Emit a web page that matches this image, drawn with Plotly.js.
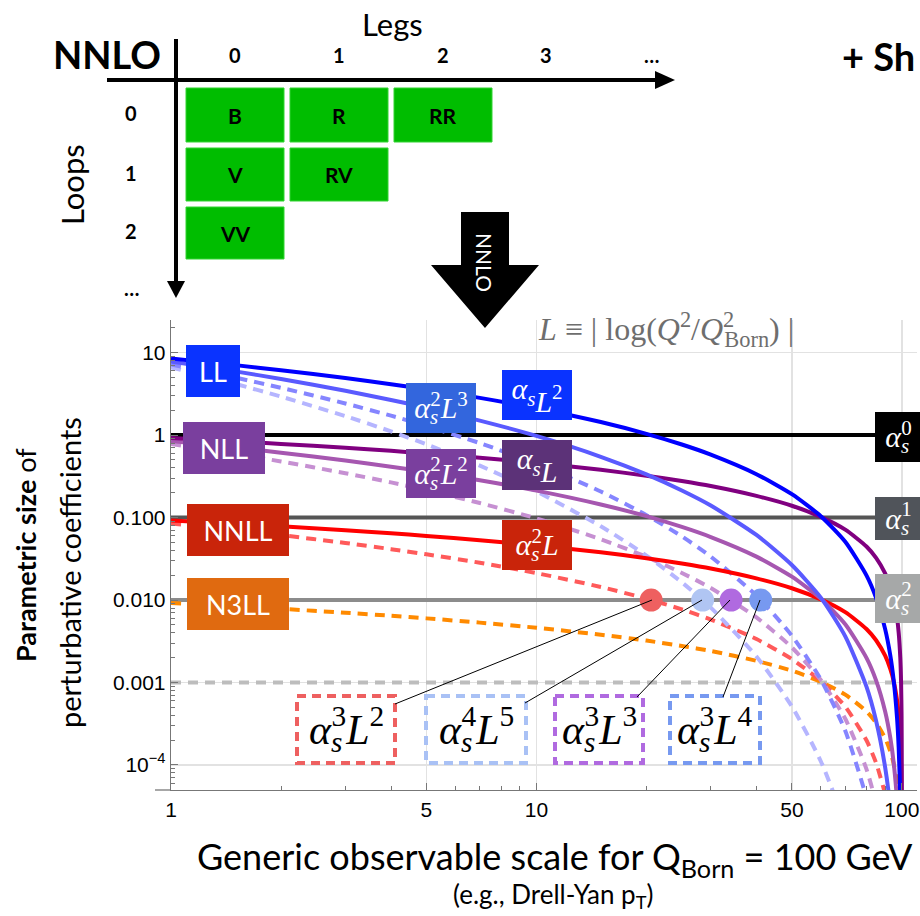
<!DOCTYPE html>
<html><head><meta charset="utf-8">
<script src="https://cdn.plot.ly/plotly-3.0.1.min.js"></script>
<style>html,body{margin:0;padding:0;background:#fff}#chart{width:920px;height:916px}</style>
</head><body><div id="chart"></div>
<script>
// ---------------- data ----------------
const scaleX = [1, 1.5, 2, 3, 4, 5, 7, 10, 15, 20, 25, 30, 40, 50, 60, 70, 80, 85, 90, 93, 95, 97, 98, 99, 99.5, 99.8, 99.95, 99.99];
// LL family
const asL2  = [8.48, 7.06, 6.12, 4.92, 4.14, 3.59, 2.83, 2.12, 1.44, 1.036, 0.769, 0.580, 0.336, 0.192, 0.104, 0.0509, 0.0199, 0.0106, 0.00444, 0.00211, 0.00105, 0.000371, 0.000163, 4.0e-5, 1.0e-5, 1.6e-6, 1.0e-7, 4e-9];
const as2L3 = [7.81, 5.93, 4.79, 3.45, 2.67, 2.15, 1.50, 0.977, 0.546, 0.334, 0.213, 0.140, 0.0615, 0.0266, 0.0107, 0.00363, 0.000889, 0.000343, 9.35e-5, 3.06e-5, 1.08e-5, 2.26e-6, 6.6e-7, 8.1e-8, 1e-8, 6.4e-10, 1e-11, 8e-14];
const as3L4 = [7.20, 4.98, 3.75, 2.42, 1.72, 1.29, 0.800, 0.450, 0.207, 0.107, 0.0591, 0.0336, 0.0113, 0.00369, 0.00109, 0.000259, 3.97e-5, 1.12e-5, 1.97e-6, 4.4e-7, 1.1e-7, 1.4e-8, 2.7e-9, 1.6e-10, 1e-11, 2.6e-13, 1e-15, 1.6e-17];
const as4L5 = [6.63, 4.18, 2.93, 1.70, 1.11, 0.772, 0.426, 0.207, 0.0786, 0.0346, 0.0164, 0.00810, 0.00207, 0.000512, 0.000111, 1.85e-5, 1.77e-6, 3.6e-7, 4.2e-8, 6.4e-9, 1.1e-9, 8.4e-11, 1.1e-11, 3.3e-13, 1e-14, 1e-16, 1e-19, 3.2e-21];
// NLL family
const asL   = [0.921, 0.840, 0.782, 0.701, 0.644, 0.599, 0.532, 0.461, 0.379, 0.322, 0.277, 0.241, 0.183, 0.139, 0.102, 0.0713, 0.0446, 0.0325, 0.0211, 0.0145, 0.0103, 0.00609, 0.00404, 0.00201, 0.00100, 0.000400, 0.000100, 2e-5];
const as2L2 = [0.848, 0.706, 0.612, 0.492, 0.414, 0.359, 0.283, 0.212, 0.144, 0.104, 0.0769, 0.0580, 0.0336, 0.0192, 0.0104, 0.00509, 0.00199, 0.00106, 0.000444, 0.000211, 0.000105, 3.7e-5, 1.63e-5, 4e-6, 1e-6, 1.6e-7, 1e-8, 4e-10];
const as3L3 = [0.781, 0.593, 0.479, 0.345, 0.267, 0.215, 0.150, 0.0977, 0.0546, 0.0334, 0.0213, 0.0140, 0.00615, 0.00266, 0.00107, 0.000363, 8.9e-5, 3.4e-5, 9.4e-6, 3.1e-6, 1.1e-6, 2.3e-7, 6.6e-8, 8.1e-9, 1e-9, 6.4e-11, 1e-12, 8e-15];
// NNLL family
const as2L  = [0.0921, 0.0840, 0.0782, 0.0701, 0.0644, 0.0599, 0.0532, 0.0461, 0.0379, 0.0322, 0.0277, 0.0241, 0.0183, 0.0139, 0.0102, 0.00713, 0.00446, 0.00325, 0.00211, 0.00145, 0.00103, 0.000609, 0.000404, 0.000201, 0.000100, 4.0e-5, 1.0e-5, 2e-6];
const as3L2 = [0.0848, 0.0706, 0.0612, 0.0492, 0.0414, 0.0359, 0.0283, 0.0212, 0.0144, 0.0104, 0.00769, 0.00580, 0.00336, 0.00192, 0.00104, 0.000509, 0.000199, 0.000106, 4.4e-5, 2.1e-5, 1.05e-5, 3.7e-6, 1.6e-6, 4.0e-7, 1.0e-7, 1.6e-8, 1e-9, 4e-11];
// N3LL
const as3L  = [0.00921, 0.00840, 0.00782, 0.00701, 0.00644, 0.00599, 0.00532, 0.00461, 0.00379, 0.00322, 0.00277, 0.00241, 0.00183, 0.00139, 0.00102, 0.000713, 0.000446, 0.000325, 0.000211, 0.000145, 0.000103, 6.1e-5, 4.0e-5, 2.0e-5, 1.0e-5, 4.0e-6, 1.0e-6, 2e-7];
// fixed-order reference levels alpha_s^0..3
const refLevels = [1, 0.1, 0.01, 0.001];
const refSpanX = [1, 110];
// crossing points with alpha_s^2 level
const crossX = [20.6, 28.5, 34.1, 41.1];
const crossY = [0.01, 0.01, 0.01, 0.01];
// ticks
const xTickVals = [1, 5, 10, 50, 100];
const xTickText = ['1', '5', '10', '50', '100'];
const yTickVals = [10, 1, 0.1, 0.01, 0.001, 0.0001];
const yTickText = ['10', '1', '0.100', '0.010', '0.001', '10<sup>−4</sup>'];
// NNLO diagram labels
const legsLabels = ['0', '1', '2', '3', '…'];
const loopsLabels = ['0', '1', '2', '…'];
const cellLabels = [['B', 'R', 'RR'], ['V', 'RV'], ['VV']];

// ---------------- geometry helpers ----------------
const ML = 171, MR = 3, MT = 320, MB = 126, W = 920, H = 916;
const PW = W - ML - MR, PH = H - MT - MB;
const PB = H - MB;
const fx = px => (px - ML) / PW;
const fy = py => (PB - py) / PH;

const serif = 'Liberation Serif, Times New Roman, serif';
const sans = 'Lato, Noto Sans, sans-serif';
const helv = 'Liberation Sans, Arial, sans-serif';
const NB = '\u00a0';

function aS(sup, rest, sp) {
  return '<i>α</i><sub><i style="letter-spacing:-' + sp + 'px">s</i></sub><sup>' + sup + '</sup>' + (rest || '');
}

// ---------------- traces ----------------
const traces = [];
const refStyles = [
  {color: '#000000', dash: 'solid'},
  {color: '#555555', dash: 'solid'},
  {color: '#8c8c8c', dash: 'solid'},
  {color: '#bdbdbd', dash: '10px,7px'}
];
refLevels.forEach((lv, i) => {
  traces.push({x: refSpanX, y: [lv, lv], mode: 'lines', line: {color: refStyles[i].color, width: 4, dash: refStyles[i].dash}, hoverinfo: 'skip'});
});
const curves = [
  {y: as3L,  c: '#ff8a00', d: '10px,7px'},
  {y: as3L2, c: '#ff5a5a', d: '10px,7px'},
  {y: as3L3, c: '#c690d2', d: '10px,7px'},
  {y: as4L5, c: '#b5b5ff', d: '10px,7px'},
  {y: as3L4, c: '#8585ff', d: '10px,7px'},
  {y: as2L,  c: '#ff0000', d: 'solid'},
  {y: as2L2, c: '#a657b0', d: 'solid'},
  {y: asL,   c: '#800080', d: 'solid'},
  {y: as2L3, c: '#5a5aff', d: 'solid'},
  {y: asL2,  c: '#0000ff', d: 'solid'}
];
curves.forEach(cv => {
  traces.push({x: scaleX, y: cv.y, mode: 'lines', line: {color: cv.c, width: 4, dash: cv.d, shape: 'spline', smoothing: 0.6}, hoverinfo: 'skip'});
});
const dotColors = ['#ee6060', '#b0c5f3', '#b06ae0', '#7799f0'];
traces.push({x: crossX, y: crossY, mode: 'markers', marker: {size: 23, color: dotColors}, hoverinfo: 'skip', cliponaxis: false});

// ---------------- minor ticks ----------------
const yMinor = [];
for (let k = -5; k <= 1; k++) for (let m = 2; m <= 9; m++) yMinor.push(m * Math.pow(10, k));
const xMinor = [];
for (let k = 0; k <= 1; k++) for (let m = 2; m <= 9; m++) if (m !== 5) xMinor.push(m * Math.pow(10, k));

// ---------------- shapes & annotations ----------------
const shapes = [];
const ann = [];
function line(x0, y0, x1, y1, color, width, dash) {
  shapes.push({type: 'line', xref: 'paper', yref: 'paper', x0: fx(x0), y0: fy(y0), x1: fx(x1), y1: fy(y1), line: {color: color, width: width, dash: dash || 'solid'}, layer: 'above'});
}
function rect(x0, y0, x1, y1, fill, lineColor, lw, dash) {
  shapes.push({type: 'rect', xref: 'paper', yref: 'paper', x0: fx(x0), y0: fy(y0), x1: fx(x1), y1: fy(y1), fillcolor: fill || 'rgba(0,0,0,0)', line: {color: lineColor || 'rgba(0,0,0,0)', width: lw || 0, dash: dash || 'solid'}, layer: 'above'});
}
function path(pts, fill) {
  const s = pts.map((p, i) => (i ? 'L' : 'M') + fx(p[0]).toFixed(5) + ',' + fy(p[1]).toFixed(5)).join(' ') + ' Z';
  shapes.push({type: 'path', xref: 'paper', yref: 'paper', path: s, fillcolor: fill, line: {width: 0}, layer: 'above'});
}
function text(px, py, t, size, color, family, extra) {
  ann.push(Object.assign({xref: 'paper', yref: 'paper', x: fx(px), y: fy(py), text: t, showarrow: false, xanchor: 'center', yanchor: 'middle', font: {size: size, color: color || '#000', family: family || sans}}, extra || {}));
}
function box(x0, y0, x1, y1, bg, t, size, family) {
  ann.push({xref: 'paper', yref: 'paper', x: fx((x0 + x1) / 2), y: fy((y0 + y1) / 2), xanchor: 'center', yanchor: 'middle', width: x1 - x0, height: y1 - y0, bgcolor: bg, borderpad: 0, borderwidth: 0, showarrow: false, text: t, font: {size: size, color: '#ffffff', family: family}});
}

// extend x-axis line to the left of the y axis
line(155, PB, ML, PB, '#777777', 1.3);

// NNLO diagram
text(107, 54, '<b>NNLO</b>', 38, '#000', sans);
text(392, 24, 'Legs', 31, '#000', sans);
text(72, 185, 'Loops', 31, '#000', sans, {textangle: -90});
line(176, 39, 176, 284, '#000', 4);
path([[167, 281], [185, 281], [176, 298]], '#000');
line(107, 80, 658, 80, '#000', 4);
path([[655, 71], [655, 89], [675, 80]], '#000');
const colX = [235, 339, 443, 546, 651];
legsLabels.forEach((t, i) => text(colX[i], 55, '<b>' + t + '</b>', 20, '#000', sans));
const rowY = [113, 173, 231, 288];
loopsLabels.forEach((t, i) => text(131, rowY[i], '<b>' + t + '</b>', 20, '#000', sans));
const cellX = [[186, 284], [290, 388], [394, 492]];
const cellY = [[88, 142], [148, 201], [207, 259]];
cellLabels.forEach((row, r) => row.forEach((t, c) => {
  rect(cellX[c][0], cellY[r][0], cellX[c][1], cellY[r][1], '#00bd00', '#33d433', 1);
  text((cellX[c][0] + cellX[c][1]) / 2, (cellY[r][0] + cellY[r][1]) / 2, '<b>' + t + '</b>', 21, '#000', sans);
}));
text(840, 56, '<b>+ Sh</b>', 38, '#000', sans, {xanchor: 'left'});

// big arrow
path([[461, 212], [509, 212], [509, 265], [539, 265], [485, 328], [431, 265], [461, 265]], '#000');
text(485, 262, 'NNLO', 21, '#fff', sans, {textangle: 90});

// formula
text(666, 329, '<i>L</i>' + NB + '≡' + NB + '|' + NB + 'log(<i>Q</i><sup>2</sup>/<i>Q</i><sup><span style="letter-spacing:-10px">2</span></sup><sub>Born</sub>)' + NB + '|', 32, '#6e6e6e', serif);

// left order labels
box(186, 345, 240, 397, '#0a33ff', 'LL', 27, sans);
box(183, 422, 265, 474, '#7a3f9e', 'NLL', 27, sans);
box(187, 504, 289, 556, '#c9240a', 'NNLL', 27, sans);
box(187, 578, 289, 630, '#e06a10', 'N3LL', 27, sans);
// middle term labels
box(406, 383, 476, 433, '#3366dd', aS('2', '<i>L</i><sup>3</sup>', 8), 30, serif);
box(502, 370, 572, 420, '#0a33ff', aS('', '<i>L</i><sup>2</sup>', 0), 30, serif);
box(406, 449, 476, 498, '#7a3f9e', aS('2', '<i>L</i><sup>2</sup>', 8), 30, serif);
box(502, 440, 572, 490, '#5c3278', aS('', '<i>L</i>', 0), 30, serif);
box(502, 520, 572, 570, '#c9240a', aS('2', '<i>L</i>', 8), 30, serif);
// right level labels
box(875, 412, 922, 462, '#000000', aS('0', '', 8), 30, serif);
box(875, 497, 922, 540, '#50545a', aS('1', '', 8), 30, serif);
box(875, 574, 922, 623, '#a6a8a8', aS('2', '', 8), 30, serif);

// dashed term boxes + connectors
const dBoxes = [
  {x0: 297, x1: 395, sup: '3', L: '2', c: '#ee6060', from: [652, 600], to: [395, 704]},
  {x0: 426, x1: 526, sup: '4', L: '5', c: '#a9c1f5', from: [702, 600], to: [525, 703]},
  {x0: 555, x1: 643, sup: '3', L: '3', c: '#b06ae0', from: [730, 600], to: [637, 697]},
  {x0: 670, x1: 760, sup: '3', L: '4', c: '#7799f0', from: [760, 600], to: [723, 697]}
];
dBoxes.forEach(b => {
  rect(b.x0, 696, b.x1, 763, null, b.c, 4, '9px,6px');
  text((b.x0 + b.x1) / 2, 729, aS(b.sup, '<i>L</i><sup>' + b.L + '</sup>', 11), 42, '#000', serif);
  line(b.from[0], b.from[1], b.to[0], b.to[1], '#000', 1);
});

// axis titles
text(555, 858, 'Generic observable scale for Q<sub>Born</sub> = 100 GeV', 36, '#000', sans);
text(553, 895, '(e.g., Drell-Yan p<sub>T</sub>)', 26, '#000', sans);
text(25, 555, '<b>Parametric size</b> of', 27, '#000', sans, {textangle: -90});
text(69, 573, 'perturbative coefficients', 29, '#000', sans, {textangle: -90});

const layout = {
  width: W, height: H,
  margin: {l: ML, r: MR, t: MT, b: MB, pad: 0},
  paper_bgcolor: '#fff', plot_bgcolor: '#fff',
  showlegend: false, hovermode: false,
  xaxis: {
    type: 'log', range: [0, Math.log10(110)],
    tickmode: 'array', tickvals: xTickVals, ticktext: xTickText,
    ticks: 'inside', ticklen: 7, tickcolor: '#777', tickwidth: 1,
    showgrid: true, gridcolor: '#e2e2e2', gridwidth: 1.5,
    showline: true, linecolor: '#777', linewidth: 1.3,
    zeroline: false,
    tickfont: {family: helv, size: 21, color: '#000'},
    minor: {tickmode: 'array', tickvals: xMinor, ticks: 'inside', ticklen: 4, tickcolor: '#777', showgrid: false}
  },
  yaxis: {
    type: 'log', range: [-4.304, 1.396],
    tickmode: 'array', tickvals: yTickVals, ticktext: yTickText,
    ticks: 'inside', ticklen: 7, tickcolor: '#777', tickwidth: 1,
    showgrid: true, gridcolor: '#e2e2e2', gridwidth: 1.5,
    showline: true, linecolor: '#777', linewidth: 1.3,
    zeroline: false,
    tickfont: {family: helv, size: 21, color: '#000'},
    minor: {tickmode: 'array', tickvals: yMinor, ticks: 'inside', ticklen: 4, tickcolor: '#777', showgrid: false}
  },
  shapes: shapes,
  annotations: ann
};
Plotly.newPlot('chart', traces, layout, {displayModeBar: false, staticPlot: true});
</script>
</body></html>
